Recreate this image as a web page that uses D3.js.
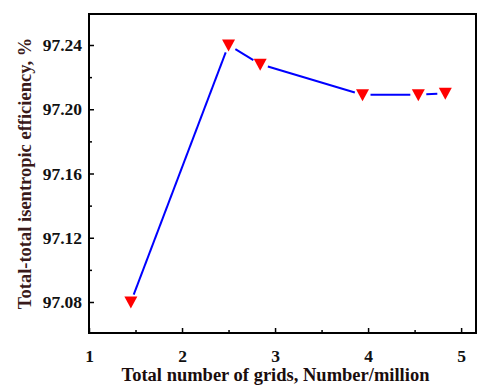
<!DOCTYPE html>
<html>
<head>
<meta charset="utf-8">
<script src="https://cdn.jsdelivr.net/npm/d3@7"></script>
<style>
  html, body { margin: 0; padding: 0; background: #fff; }
  svg { display: block; }
</style>
</head>
<body>
<script>
// Grid-independence study: efficiency vs. mesh size
const gridCounts = [1.45, 2.5, 2.84, 3.94, 4.54, 4.83];      // million cells
const efficiency = [97.080, 97.240, 97.228, 97.209, 97.209, 97.210]; // %
const xTickValues = [1, 2, 3, 4, 5];
const yTickValues = [97.08, 97.12, 97.16, 97.20, 97.24];
const xMinorTicks = [1.5, 2.5, 3.5, 4.5];
const yMinorTicks = [97.10, 97.14, 97.18, 97.22];
const xTitle = "Total number of grids, Number/million";
const yTitle = "Total-total isentropic efficiency, %";

const W = 477, H = 385;
const plot = { left: 89, top: 14, right: 476, bottom: 333 };

const svg = d3.select("body").append("svg").attr("width", W).attr("height", H);

const x = d3.scaleLinear().domain([1, 5.16]).range([plot.left, plot.right]);
const y = d3.scaleLinear().domain([97.0607, 97.2593]).range([plot.bottom, plot.top]);

const font = "'Liberation Serif', 'Times New Roman', serif";
const tickFont = 17.5, titleFont = 18.5;

// frame
svg.append("rect")
  .attr("x", plot.left).attr("y", plot.top)
  .attr("width", plot.right - plot.left).attr("height", plot.bottom - plot.top)
  .attr("fill", "none").attr("stroke", "#000").attr("stroke-width", 2);

// bottom axis (ticks point inward)
const xAxis = svg.append("g").attr("transform", `translate(0,${plot.bottom})`)
  .call(d3.axisBottom(x).tickValues(xTickValues).tickSize(-5).tickPadding(17).tickFormat(d3.format("d")));
xAxis.select(".domain").remove();
xAxis.selectAll(".tick line").attr("stroke", "#000").attr("stroke-width", 1.5);
xAxis.selectAll("text").attr("font-family", font).attr("font-weight", "bold")
  .attr("font-size", tickFont).attr("fill", "#111");
svg.append("g").attr("transform", `translate(0,${plot.bottom})`)
  .call(d3.axisBottom(x).tickValues(xMinorTicks).tickSize(-3).tickFormat(""))
  .call(g => g.select(".domain").remove())
  .selectAll(".tick line").attr("stroke", "#000").attr("stroke-width", 1.5);

// left axis
const yAxis = svg.append("g").attr("transform", `translate(${plot.left},0)`)
  .call(d3.axisLeft(y).tickValues(yTickValues).tickSize(-5).tickPadding(7).tickFormat(d3.format(".2f")));
yAxis.select(".domain").remove();
yAxis.selectAll(".tick line").attr("stroke", "#000").attr("stroke-width", 1.5);
yAxis.selectAll("text").attr("font-family", font).attr("font-weight", "bold")
  .attr("font-size", tickFont).attr("fill", "#111");
svg.append("g").attr("transform", `translate(${plot.left},0)`)
  .call(d3.axisLeft(y).tickValues(yMinorTicks).tickSize(-3).tickFormat(""))
  .call(g => g.select(".domain").remove())
  .selectAll(".tick line").attr("stroke", "#000").attr("stroke-width", 1.5);

// axis titles
svg.append("text")
  .attr("x", (plot.left + plot.right) / 2 - 7).attr("y", 381)
  .attr("text-anchor", "middle")
  .attr("font-family", font).attr("font-weight", "bold").attr("font-size", titleFont)
  .attr("fill", "#1a0d0d")
  .text(xTitle);
svg.append("text")
  .attr("transform", `translate(31,${(plot.top + plot.bottom) / 2 + 0}) rotate(-90)`)
  .attr("text-anchor", "middle")
  .attr("font-family", font).attr("font-weight", "bold").attr("font-size", titleFont)
  .attr("fill", "#3a1a1a")
  .text(yTitle);

// data line, drawn as separate segments that stop short of each marker
const pts = gridCounts.map((g, i) => [x(g), y(efficiency[i])]);
const gap = 8;
const segs = d3.pairs(pts).map(([a, b]) => {
  const dx = b[0] - a[0], dy = b[1] - a[1];
  const len = Math.hypot(dx, dy);
  const ux = dx / len, uy = dy / len;
  return [[a[0] + ux * gap, a[1] + uy * gap], [b[0] - ux * gap, b[1] - uy * gap]];
});
svg.append("g").selectAll("line").data(segs).join("line")
  .attr("x1", d => d[0][0]).attr("y1", d => d[0][1])
  .attr("x2", d => d[1][0]).attr("y2", d => d[1][1])
  .attr("stroke", "#0000ff").attr("stroke-width", 2);

// downward triangle markers
const tri = "M-6.5,-5.5L6.5,-5.5L0,6.5Z";
svg.append("g").selectAll("path").data(pts).join("path")
  .attr("d", tri)
  .attr("transform", d => `translate(${d[0]},${d[1]})`)
  .attr("fill", "#ff0000");
</script>
</body>
</html>
